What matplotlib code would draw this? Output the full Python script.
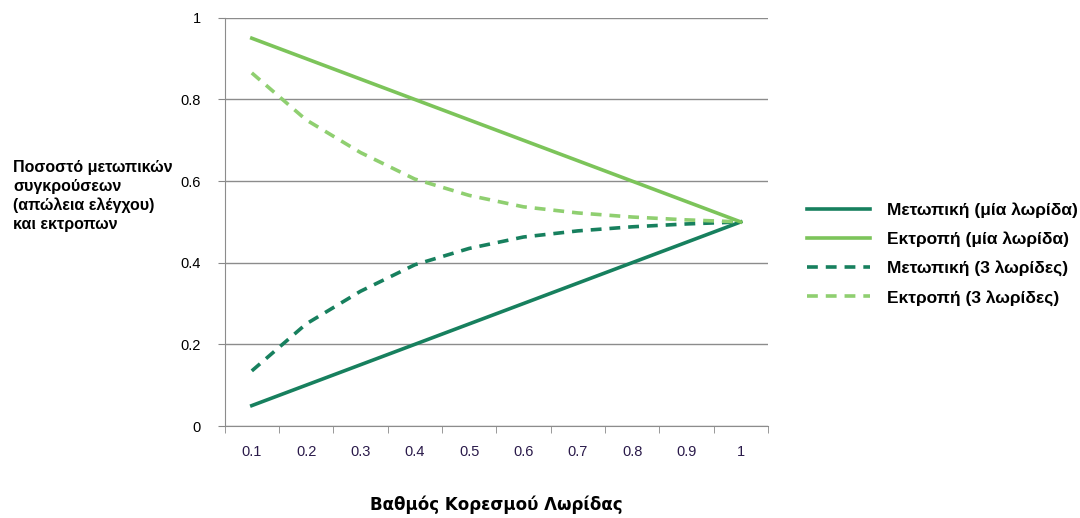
import numpy as np
import matplotlib.pyplot as plt

plt.rcParams['font.family'] = ['Liberation Sans', 'DejaVu Sans']

categories = ['0.1', '0.2', '0.3', '0.4', '0.5', '0.6', '0.7', '0.8', '0.9', '1']
head_on_1 = [0.05, 0.10, 0.15, 0.20, 0.25, 0.30, 0.35, 0.40, 0.45, 0.50]
runoff_1 = [0.95, 0.90, 0.85, 0.80, 0.75, 0.70, 0.65, 0.60, 0.55, 0.50]
head_on_3 = [0.135, 0.25, 0.33, 0.395, 0.435, 0.463, 0.478, 0.488, 0.495, 0.50]
runoff_3 = [0.865, 0.75, 0.67, 0.605, 0.565, 0.537, 0.522, 0.512, 0.505, 0.50]

labels = ['Μετωπική (μία λωρίδα)', 'Εκτροπή (μία λωρίδα)',
          'Μετωπική (3 λωρίδες)', 'Εκτροπή (3 λωρίδες)']

dark = '#17805e'
light = '#7cc45a'
light_d = '#8fcf70'

fig = plt.figure(figsize=(10.8, 5.18), dpi=100)
ax = fig.add_axes([0.208, 0.1776, 0.503, 0.788])

x = np.arange(len(categories))
ax.plot(x, head_on_1, color=dark, lw=2.6, label=labels[0])
ax.plot(x, runoff_1, color=light, lw=2.6, label=labels[1])
ax.plot(x, head_on_3, color=dark, lw=2.6, ls=(0, (3, 2.2)), label=labels[2])
ax.plot(x, runoff_3, color=light_d, lw=2.6, ls=(0, (3, 2.2)), label=labels[3])

ax.set_xlim(-0.5, len(categories) - 0.5)
ax.set_ylim(0, 1)
ax.set_yticks(np.arange(0, 1.01, 0.2))
ax.set_yticklabels(['0', '0.2', '0.4', '0.6', '0.8', '1'], fontsize=10.5)
ax.set_xticks(x)
ax.set_xticklabels(categories, fontsize=10.5, color='#2a1a4a')
ax.set_xticks(np.arange(-0.5, len(categories)), minor=True)
ax.tick_params(axis='x', which='major', length=0, pad=14)
ax.tick_params(axis='x', which='minor', length=5, color='#888888')
ax.tick_params(axis='y', length=5, color='#888888', pad=12)

ax.grid(axis='y', color='#8c8c8c', lw=1)
ax.set_axisbelow(True)
for s in ['top', 'right']:
    ax.spines[s].set_visible(False)
for s in ['left', 'bottom']:
    ax.spines[s].set_color('#8c8c8c')

fig.text(0.012, 0.622, 'Ποσοστό μετωπικών\nσυγκρούσεων\n(απώλεια ελέγχου)\nκαι εκτροπων',
         fontsize=11.5, fontweight='bold', va='center', ha='left', linespacing=1.3)
fig.text(0.46, 0.008, 'Βαθμός Κορεσμού Λωρίδας', fontsize=12, fontweight='bold',
         ha='center', va='bottom', family=['DejaVu Sans'])

fig.legend(loc='center left', bbox_to_anchor=(0.733, 0.51), frameon=False,
           prop={'size': 12.5, 'weight': 'bold'}, handlelength=3.6,
           labelspacing=0.78, handletextpad=1.0)

fig.savefig('out.png', dpi=100)
